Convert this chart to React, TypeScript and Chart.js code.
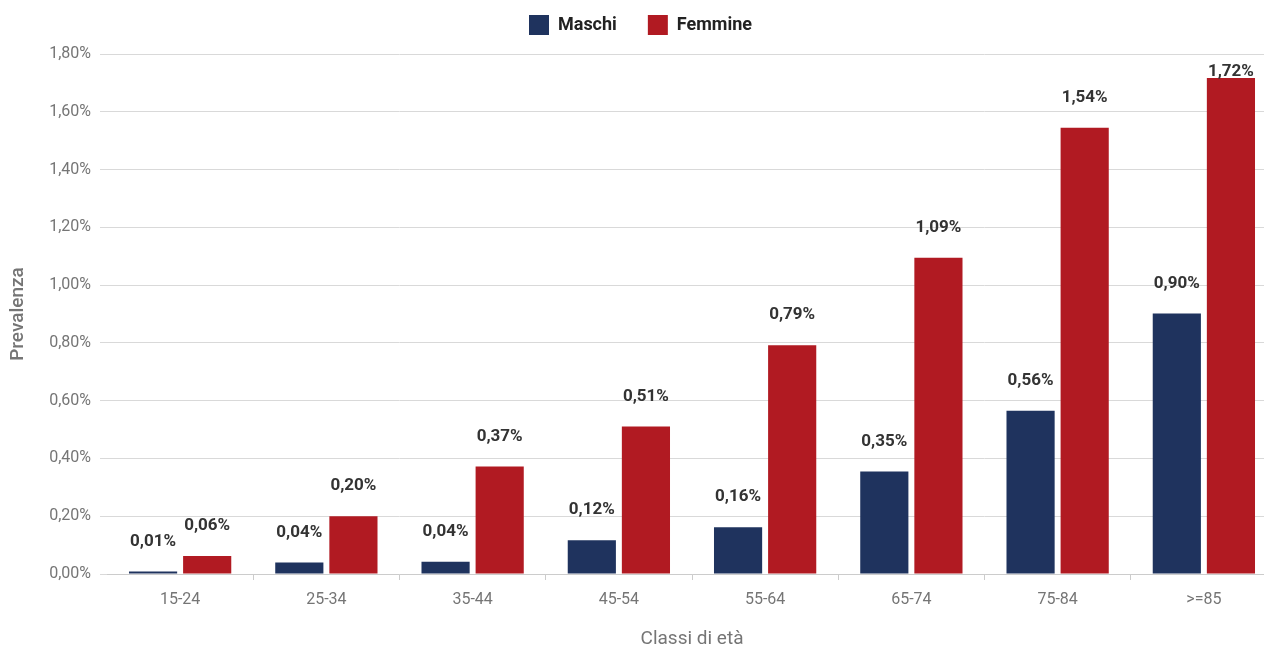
import React, { useEffect, useRef } from "react";
import { Chart, registerables } from "chart.js";

Chart.register(...registerables);

const categories = ["15-24", "25-34", "35-44", "45-54", "55-64", "65-74", "75-84", ">=85"];
const maschi = [0.009, 0.04, 0.042, 0.117, 0.162, 0.355, 0.565, 0.902];
const femmine = [0.062, 0.2, 0.372, 0.511, 0.792, 1.095, 1.545, 1.717];
const maschiLabels = ["0,01%", "0,04%", "0,04%", "0,12%", "0,16%", "0,35%", "0,56%", "0,90%"];
const femmineLabels = ["0,06%", "0,20%", "0,37%", "0,51%", "0,79%", "1,09%", "1,54%", "1,72%"];
const seriesNames = ["Maschi", "Femmine"];
const seriesColors = ["#1f335e", "#b11a22"];
const yMax = 1.8;
const yStep = 0.2;

const GRAY = "#757575";

const legendPatch = {
  id: "legendPatch",
  beforeInit(chart: any) {
    const lg: any = chart.legend;
    if (!lg) return;
    const origFit = lg.fit;
    lg.fit = function () {
      origFit.call(this);
      this.height = 54;
    };
    const origDraw = lg.draw;
    lg.draw = function () {
      const ctx = this.ctx;
      ctx.save();
      ctx.translate(2, -16);
      origDraw.call(this);
      ctx.restore();
    };
  },
};

const dataLabels = {
  id: "dataLabels",
  afterDatasetsDraw(chart: any) {
    const ctx = chart.ctx;
    const top = chart.chartArea.top;
    const labelSets = [maschiLabels, femmineLabels];
    ctx.save();
    ctx.font = "bold 17px Roboto";
    ctx.fillStyle = "#333333";
    ctx.textAlign = "center";
    ctx.textBaseline = "middle";
    chart.data.datasets.forEach((_ds: any, di: number) => {
      const meta = chart.getDatasetMeta(di);
      meta.data.forEach((bar: any, i: number) => {
        const y = Math.max(bar.y - 30, top + 18);
        ctx.fillText(labelSets[di][i], bar.x, y);
      });
    });
    ctx.restore();
  },
};

export default function App() {
  const ref = useRef<HTMLCanvasElement | null>(null);
  useEffect(() => {
    if (!ref.current) return;
    Chart.defaults.font.family = "Roboto";
    const chart = new Chart(ref.current, {
      type: "bar",
      data: {
        labels: categories,
        datasets: [
          { label: seriesNames[0], data: maschi, backgroundColor: seriesColors[0], categoryPercentage: 0.74, barPercentage: 0.89 },
          { label: seriesNames[1], data: femmine, backgroundColor: seriesColors[1], categoryPercentage: 0.74, barPercentage: 0.89 },
        ],
      },
      options: {
        responsive: false,
        animation: false,
        layout: { padding: { left: 0, right: 5, top: 0, bottom: 0 } },
        plugins: {
          legend: {
            position: "top",
            labels: {
              boxWidth: 20,
              boxHeight: 20,
              padding: 31,
              color: "#222222",
              font: { size: 18, weight: "bold" },
            },
          },
          tooltip: { enabled: false },
        },
        scales: {
          x: {
            grid: {
              drawOnChartArea: false,
              tickLength: 6,
              color: (c: any) => (c.index === 0 || c.index === categories.length ? "rgba(0,0,0,0)" : "#cccccc"),
            },
            border: { color: "#cccccc" },
            ticks: { color: GRAY, font: { size: 16 }, padding: 10 },
            title: { display: true, text: "Classi di età", color: GRAY, font: { size: 19 }, padding: { top: 0, bottom: -3 } },
            afterFit(scale: any) {
              scale.height = 74;
            },
          },
          y: {
            min: 0,
            max: yMax,
            ticks: {
              stepSize: yStep,
              color: GRAY,
              font: { size: 16 },
              padding: 9,
              callback: (v: any) => Number(v).toFixed(2).replace(".", ",") + "%",
            },
            grid: { color: "#d9d9d9", tickLength: 7 },
            border: { display: false },
            title: { display: true, text: "Prevalenza", color: GRAY, font: { size: 19, weight: "500" }, padding: { top: 7, bottom: 0 } },
            afterFit(scale: any) {
              scale.width = 107;
            },
          },
        },
      },
      plugins: [legendPatch, dataLabels],
    });
    return () => chart.destroy();
  }, []);
  return (
    <div style={{ position: "fixed", left: 0, top: 0, width: 1264, height: 648, overflow: "hidden", background: "#fff" }}>
      <canvas ref={ref} width={1282} height={648} style={{ width: 1282, height: 648, display: "block" }} />
    </div>
  );
}
